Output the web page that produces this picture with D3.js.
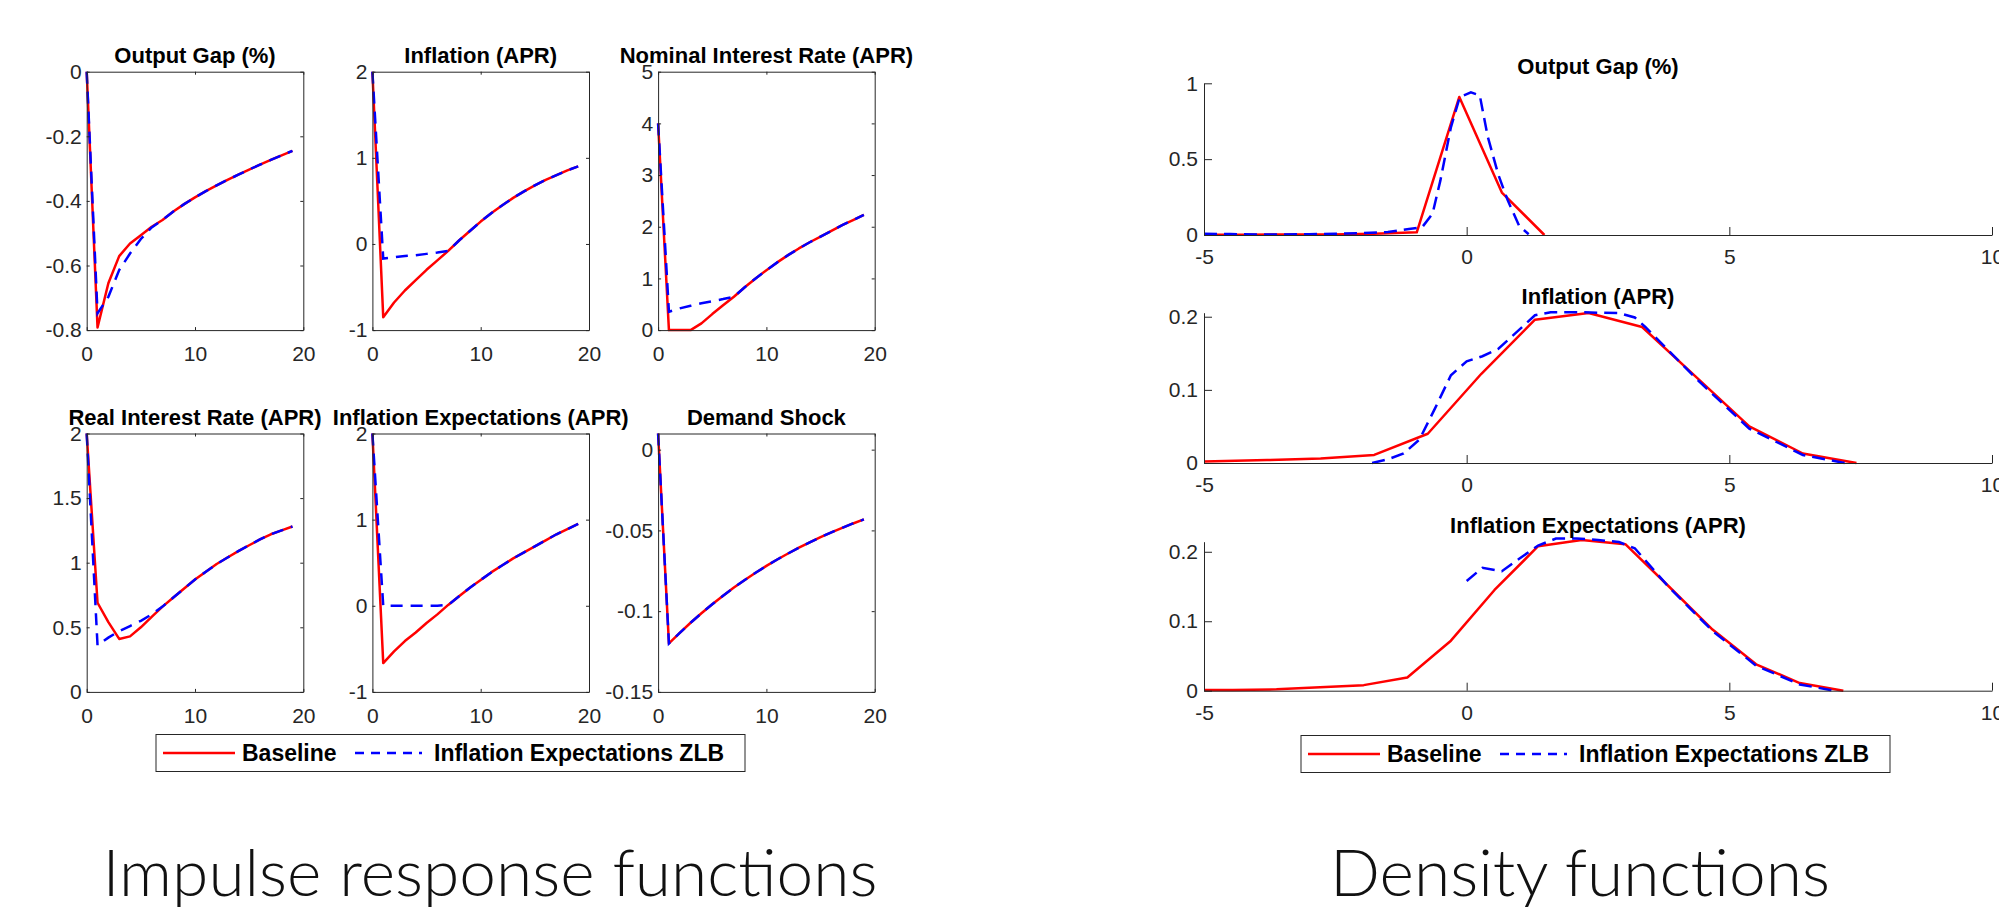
<!DOCTYPE html>
<html>
<head>
<meta charset="utf-8">
<script src="https://cdn.jsdelivr.net/npm/d3@7"></script>
<style>
  body { margin: 0; background: #fff; }
  svg { display: block; font-family: "Liberation Sans", Arial, Helvetica, sans-serif; }
</style>
</head>
<body>
<svg id="chart"></svg>
<script>
// ---- Impulse responses (quarters 0..19) ----
const quarters = [0, 1, 2, 3, 4, 5, 6, 7, 8, 9, 10, 11, 12, 13, 14, 15, 16, 17, 18, 19];

const outputGapBase = [0, -0.792, -0.655, -0.571, -0.532, -0.506, -0.480, -0.459, -0.433, -0.410, -0.389, -0.370, -0.352, -0.335, -0.319, -0.303, -0.288, -0.273, -0.259, -0.245];
const outputGapZlb  = [0, -0.748, -0.697, -0.614, -0.563, -0.518, -0.482, -0.459, -0.433, -0.410, -0.389, -0.370, -0.352, -0.335, -0.319, -0.303, -0.288, -0.273, -0.259, -0.245];

const inflationBase = [2, -0.85, -0.68, -0.54, -0.42, -0.30, -0.19, -0.08, 0.04, 0.15, 0.26, 0.36, 0.45, 0.535, 0.61, 0.68, 0.745, 0.80, 0.855, 0.90];
const inflationZlb  = [2, -0.17, -0.155, -0.14, -0.13, -0.115, -0.10, -0.08, 0.04, 0.15, 0.26, 0.36, 0.45, 0.535, 0.61, 0.68, 0.745, 0.80, 0.855, 0.90];

const nominalBase = [4.0, 0, 0, 0, 0.13, 0.31, 0.48, 0.645, 0.83, 1.0, 1.16, 1.31, 1.45, 1.58, 1.70, 1.81, 1.92, 2.03, 2.13, 2.23];
const nominalZlb  = [4.0, 0.355, 0.42, 0.47, 0.52, 0.56, 0.60, 0.645, 0.83, 1.0, 1.16, 1.31, 1.45, 1.58, 1.70, 1.81, 1.92, 2.03, 2.13, 2.23];

const realBase = [2, 0.69, 0.54, 0.41, 0.43, 0.50, 0.58, 0.66, 0.73, 0.80, 0.87, 0.93, 0.99, 1.04, 1.09, 1.135, 1.18, 1.22, 1.25, 1.28];
const realZlb  = [2, 0.36, 0.42, 0.47, 0.51, 0.55, 0.60, 0.66, 0.73, 0.80, 0.87, 0.93, 0.99, 1.04, 1.09, 1.135, 1.18, 1.22, 1.25, 1.28];

const expectBase = [2, -0.665, -0.53, -0.41, -0.31, -0.20, -0.10, 0.01, 0.11, 0.21, 0.30, 0.39, 0.47, 0.55, 0.62, 0.69, 0.76, 0.83, 0.89, 0.95];
const expectZlb  = [2, 0, 0, 0, 0, 0, 0, 0.01, 0.11, 0.21, 0.30, 0.39, 0.47, 0.55, 0.62, 0.69, 0.76, 0.83, 0.89, 0.95];

const demandBase = [0.01, -0.120, -0.1135, -0.1072, -0.1013, -0.0957, -0.0904, -0.0854, -0.0807, -0.0762, -0.0720, -0.0680, -0.0643, -0.0607, -0.0574, -0.0542, -0.0512, -0.0484, -0.0457, -0.0432];
const demandZlb  = [0.01, -0.120, -0.1135, -0.1072, -0.1013, -0.0957, -0.0904, -0.0854, -0.0807, -0.0762, -0.0720, -0.0680, -0.0643, -0.0607, -0.0574, -0.0542, -0.0512, -0.0484, -0.0457, -0.0432];

const irfTitles = ['Output Gap (%)', 'Inflation (APR)', 'Nominal Interest Rate (APR)',
                   'Real Interest Rate (APR)', 'Inflation Expectations (APR)', 'Demand Shock'];
const irfBase = [outputGapBase, inflationBase, nominalBase, realBase, expectBase, demandBase];
const irfZlb = [outputGapZlb, inflationZlb, nominalZlb, realZlb, expectZlb, demandZlb];
const irfYDomains = [[-0.8, 0], [-1, 2], [0, 5], [0, 2], [-1, 2], [-0.15, 0.01]];
const irfYTicks = [[-0.8, -0.6, -0.4, -0.2, 0], [-1, 0, 1, 2], [0, 1, 2, 3, 4, 5],
                   [0, 0.5, 1, 1.5, 2], [-1, 0, 1, 2], [-0.15, -0.1, -0.05, 0]];
const irfXTicks = [0, 10, 20];

// ---- Densities: [x, density] ----
const gapDensBase = [[-5, 0.002], [-4.19, 0.001], [-3.38, 0.004], [-2.57, 0.004], [-1.76, 0.008], [-0.95, 0.018], [-0.14, 0.91], [0.67, 0.28], [1.48, 0]];
const gapDensZlb = [[-5, 0.008], [-4.5, 0.006], [-4.0, 0.004], [-3.5, 0.004], [-3.0, 0.005], [-2.5, 0.008], [-2.0, 0.012], [-1.5, 0.02], [-1.1, 0.04], [-0.85, 0.05],
                    [-0.65, 0.14], [-0.5, 0.36], [-0.3, 0.71], [-0.13, 0.91], [0.08, 0.94], [0.25, 0.92], [0.4, 0.65], [0.6, 0.4], [0.78, 0.23], [1.0, 0.06], [1.18, 0.005]];

const inflDensBase = [[-5, 0.002], [-3.8, 0.004], [-2.78, 0.006], [-1.76, 0.011], [-0.74, 0.040], [0.28, 0.122], [1.30, 0.196], [2.32, 0.205],
                      [3.34, 0.186], [4.36, 0.118], [5.38, 0.050], [6.40, 0.013], [7.42, 0]];
const inflDensZlb = [[-1.8, 0], [-1.5, 0.005], [-1.2, 0.013], [-0.9, 0.032], [-0.6, 0.075], [-0.3, 0.12], [0.0, 0.139], [0.3, 0.146], [0.6, 0.156], [0.95, 0.179],
                     [1.3, 0.202], [1.6, 0.206], [2.2, 0.206], [2.9, 0.205], [3.2, 0.199], [3.4, 0.186], [4.36, 0.116], [5.38, 0.047], [6.4, 0.011], [7.2, 0]];

const expDensBase = [[-5, 0.001], [-4.45, 0.001], [-3.62, 0.002], [-2.79, 0.005], [-1.96, 0.008], [-1.13, 0.019], [-0.30, 0.072], [0.53, 0.145],
                     [1.36, 0.208], [2.19, 0.217], [3.02, 0.211], [3.85, 0.150], [4.68, 0.088], [5.51, 0.038], [6.34, 0.011], [7.17, 0]];
const expDensZlb = [[0.0, 0.158], [0.3, 0.177], [0.67, 0.172], [1.0, 0.19], [1.36, 0.209], [1.7, 0.219], [2.1, 0.219], [2.5, 0.217], [2.9, 0.214], [3.2, 0.205],
                    [3.85, 0.149], [4.68, 0.086], [5.51, 0.036], [6.34, 0.009], [7.0, 0]];

const densTitles = ['Output Gap (%)', 'Inflation (APR)', 'Inflation Expectations (APR)'];
const densBase = [gapDensBase, inflDensBase, expDensBase];
const densZlb = [gapDensZlb, inflDensZlb, expDensZlb];
const densYDomains = [[0, 1], [0, 0.2055], [0, 0.2145]];
const densYTicks = [[0, 0.5, 1], [0, 0.1, 0.2], [0, 0.1, 0.2]];
const densXTicks = [-5, 0, 5, 10];

const legendLabels = ['Baseline', 'Inflation Expectations ZLB'];
const sectionTitles = ['Impulse response functions', 'Density functions'];

// ---- Setup ----
const width = 1999;
const height = 909;
const axisColor = '#262626';
const svg = d3.select('#chart').attr('width', width).attr('height', height);

// plain hyphen minus, like the original figure
const fmt = d => String(d);

function styleAxis(sel) {
  sel.selectAll('path, line').attr('stroke', axisColor).attr('stroke-width', 1);
  sel.selectAll('text').attr('fill', axisColor);
  sel.attr('font-family', null);
}

// ---- Impulse response panels (box on, inward ticks) ----
const irfW = 216.6, irfH = 258.4, irfStep = 285.7;
const irfLefts = [86.7, 86.7 + irfStep, 86.7 + 2 * irfStep];
const irfTops = [71.7, 433.5];

irfTitles.forEach(function (title, i) {
  const left = irfLefts[i % 3];
  const top = irfTops[Math.floor(i / 3)];
  const g = svg.append('g').attr('transform', `translate(${left},${top})`);

  const x = d3.scaleLinear().domain([0, 20]).range([0, irfW]);
  const y = d3.scaleLinear().domain(irfYDomains[i]).range([irfH, 0]);

  // lines first, axes box on top
  const line = d3.line().x((d, k) => x(quarters[k])).y(d => y(d));
  g.append('path').datum(irfBase[i])
    .attr('fill', 'none').attr('stroke', '#ff0000').attr('stroke-width', 2.5)
    .attr('stroke-linejoin', 'round').attr('d', line);
  g.append('path').datum(irfZlb[i])
    .attr('fill', 'none').attr('stroke', '#0000ff').attr('stroke-width', 2.5)
    .attr('stroke-dasharray', '12,8').attr('d', line);

  g.append('g').attr('transform', `translate(0,${irfH})`)
    .call(d3.axisBottom(x).tickValues(irfXTicks).tickFormat(fmt).tickSizeInner(-3).tickSizeOuter(0).tickPadding(16))
    .call(styleAxis).attr('font-size', 21);
  g.append('g')
    .call(d3.axisLeft(y).tickValues(irfYTicks[i]).tickFormat(fmt).tickSizeInner(-3).tickSizeOuter(0).tickPadding(5))
    .call(styleAxis).attr('font-size', 21);
  g.append('g')
    .call(d3.axisTop(x).tickValues(irfXTicks).tickFormat('').tickSizeInner(-3).tickSizeOuter(0))
    .call(styleAxis);
  g.append('g').attr('transform', `translate(${irfW},0)`)
    .call(d3.axisRight(y).tickValues(irfYTicks[i]).tickFormat('').tickSizeInner(-3).tickSizeOuter(0))
    .call(styleAxis);

  g.append('text')
    .attr('x', irfW / 2).attr('y', -9)
    .attr('text-anchor', 'middle')
    .attr('font-size', 22).attr('font-weight', 'bold').attr('fill', '#000')
    .text(title);
});

// ---- Density panels (box off) ----
const densLeft = 1204, densRight = 1992;
const densTops = [83.3, 312.7, 541.7];
const densBottoms = [235, 463, 690.7];

densTitles.forEach(function (title, i) {
  const h = densBottoms[i] - densTops[i];
  const g = svg.append('g').attr('transform', `translate(${densLeft},${densTops[i]})`);

  const x = d3.scaleLinear().domain([-5, 10]).range([0, densRight - densLeft]);
  const y = d3.scaleLinear().domain(densYDomains[i]).range([h, 0]);
  const line = d3.line().x(d => x(d[0])).y(d => y(d[1]));

  g.append('path').datum(densBase[i])
    .attr('fill', 'none').attr('stroke', '#ff0000').attr('stroke-width', 2.5)
    .attr('stroke-linejoin', 'round').attr('d', line);
  g.append('path').datum(densZlb[i])
    .attr('fill', 'none').attr('stroke', '#0000ff').attr('stroke-width', 2.5)
    .attr('stroke-dasharray', '13,7').attr('d', line);

  g.append('g').attr('transform', `translate(0,${h})`)
    .call(d3.axisBottom(x).tickValues(densXTicks).tickFormat(fmt).tickSizeInner(-8).tickSizeOuter(0).tickPadding(14))
    .call(styleAxis).attr('font-size', 21);
  g.append('g')
    .call(d3.axisLeft(y).tickValues(densYTicks[i]).tickFormat(fmt).tickSizeInner(-8).tickSizeOuter(0).tickPadding(6))
    .call(styleAxis).attr('font-size', 21);

  g.append('text')
    .attr('x', (densRight - densLeft) / 2).attr('y', -9)
    .attr('text-anchor', 'middle')
    .attr('font-size', 22).attr('font-weight', 'bold').attr('fill', '#000')
    .text(title);
});

// ---- Legends ----
function drawLegend(left, top) {
  const lg = svg.append('g').attr('transform', `translate(${left},${top})`);
  const w = 589, h = 37, mid = h / 2;
  lg.append('rect').attr('width', w).attr('height', h)
    .attr('fill', '#fff').attr('stroke', axisColor).attr('stroke-width', 1);
  lg.append('line').attr('x1', 7).attr('x2', 79).attr('y1', mid).attr('y2', mid)
    .attr('stroke', '#ff0000').attr('stroke-width', 2.5);
  lg.append('line').attr('x1', 199).attr('x2', 266).attr('y1', mid).attr('y2', mid)
    .attr('stroke', '#0000ff').attr('stroke-width', 2.5).attr('stroke-dasharray', '9,7');
  [86, 278].forEach(function (tx, k) {
    lg.append('text').attr('x', tx).attr('y', mid + 8)
      .attr('font-size', 23).attr('font-weight', 'bold').attr('fill', '#000')
      .text(legendLabels[k]);
  });
}
drawLegend(156, 734.5);
drawLegend(1301, 735.5);

// ---- Section captions ----
const captionCenters = [490, 1580];
const captionWidths = [775, 500];
sectionTitles.forEach(function (t, k) {
  svg.append('text')
    .attr('x', captionCenters[k]).attr('y', 896)
    .attr('text-anchor', 'middle')
    .attr('textLength', captionWidths[k]).attr('lengthAdjust', 'spacingAndGlyphs')
    .style('font-family', 'Lato, "Open Sans", sans-serif')
    .attr('font-weight', 300).attr('font-size', 66).attr('fill', '#111')
    .text(t);
});
</script>
</body>
</html>
